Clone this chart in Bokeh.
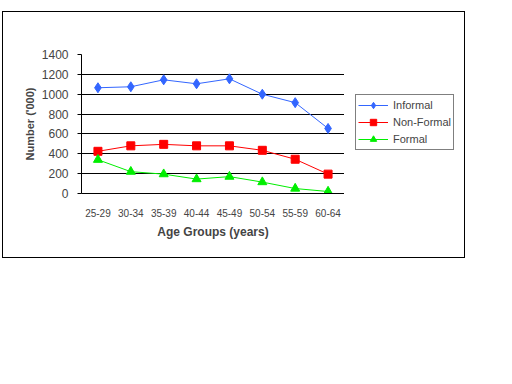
from bokeh.plotting import figure
from bokeh.models import FactorRange, Range1d, FixedTicker, Legend, LegendItem, Row
from bokeh.embed import file_html
from bokeh.resources import INLINE

age_groups = ["25-29", "30-34", "35-39", "40-44", "45-49", "50-54", "55-59", "60-64"]
informal = [1065, 1075, 1145, 1105, 1155, 1000, 915, 655]
non_formal = [425, 480, 495, 480, 480, 435, 345, 195]
formal = [340, 220, 195, 145, 170, 115, 50, 20]
y_ticks = [0, 200, 400, 600, 800, 1000, 1200, 1400]
grid_ticks = [200, 400, 600, 800, 1000, 1200]
series_names = ["Informal", "Non-Formal", "Formal"]

FONT = "Liberation Sans"
blue = "#3366FF"
red = "#FF0000"
green = "#00EE00"

p = figure(width=341, height=245, output_backend="svg", toolbar_location=None,
           x_range=FactorRange(factors=age_groups, range_padding=0),
           y_range=Range1d(0, 1400),
           min_border_left=78, min_border_right=0, min_border_top=42, min_border_bottom=64)
p.outline_line_color = None
p.border_fill_color = "white"

p.xgrid.grid_line_color = None
p.ygrid.ticker = FixedTicker(ticks=grid_ticks)
p.ygrid.grid_line_color = "black"
p.ygrid.grid_line_width = 1

p.yaxis.ticker = FixedTicker(ticks=y_ticks)
p.yaxis.minor_tick_line_color = None
p.yaxis.major_tick_out = 4
p.yaxis.major_tick_in = 0
p.yaxis.axis_line_color = "black"
p.yaxis.major_label_standoff = 9
p.yaxis.major_label_text_font = FONT
p.yaxis.major_label_text_font_size = "12px"
p.yaxis.axis_label = "Number ('000)"
p.yaxis.axis_label_text_font = FONT
p.yaxis.axis_label_text_font_size = "11px"
p.yaxis.axis_label_text_font_style = "bold"
p.yaxis.axis_label_standoff = 3

p.xaxis.major_tick_line_color = None
p.xaxis.minor_tick_line_color = None
p.xaxis.axis_line_color = "black"
p.xaxis.major_label_standoff = 9
p.xaxis.major_label_text_font = FONT
p.xaxis.major_label_text_font_size = "10px"
p.xaxis.axis_label = "Age Groups (years)"
p.xaxis.axis_label_text_font = FONT
p.xaxis.axis_label_text_font_size = "12px"
p.xaxis.axis_label_text_font_style = "bold"
p.xaxis.axis_label_standoff = 5

p.line(age_groups, informal, line_color=blue, line_width=1)
p.scatter(age_groups, informal, marker="diamond", size=10, fill_color=blue, line_color=blue)
p.line(age_groups, non_formal, line_color=red, line_width=1)
p.scatter(age_groups, non_formal, marker="square", size=8, fill_color=red, line_color=red)
p.line(age_groups, formal, line_color=green, line_width=1)
p.scatter(age_groups, formal, marker="triangle", size=9, fill_color=green, line_color=green)

# legend panel: proxy renderers (no visible data) carrying the same styles as the series
pl = figure(width=120, height=245, output_backend="svg", toolbar_location=None,
            x_axis_type=None, y_axis_type=None, min_border=0,
            x_range=Range1d(0, 1), y_range=Range1d(0, 1))
pl.outline_line_color = None
pl.xgrid.grid_line_color = None
pl.ygrid.grid_line_color = None
nan = float("nan")
items = []
for name, col, mk, sz in zip(series_names, [blue, red, green], ["diamond", "square", "triangle"], [9, 8, 8]):
    lr = pl.line([nan], [nan], line_color=col, line_width=1)
    mr = pl.scatter([nan], [nan], marker=mk, size=sz, fill_color=col, line_color=col)
    items.append(LegendItem(label=name, renderers=[lr, mr]))

legend = Legend(items=items, location=(11, 43))
legend.border_line_color = "black"
legend.border_line_width = 1
legend.label_text_font = FONT
legend.label_text_font_size = "11px"
legend.glyph_width = 30
legend.glyph_height = 16
legend.label_height = 16
legend.spacing = 1
legend.padding = 2
legend.margin = 0
legend.label_standoff = 5
legend.background_fill_alpha = 1
pl.add_layout(legend, "center")

layout = Row(children=[p, pl], spacing=0,
             styles={"border": "1px solid black", "margin-left": "2px", "margin-top": "11px",
                     "width": "fit-content"})

open("out.html", "w").write(file_html(layout, INLINE))
